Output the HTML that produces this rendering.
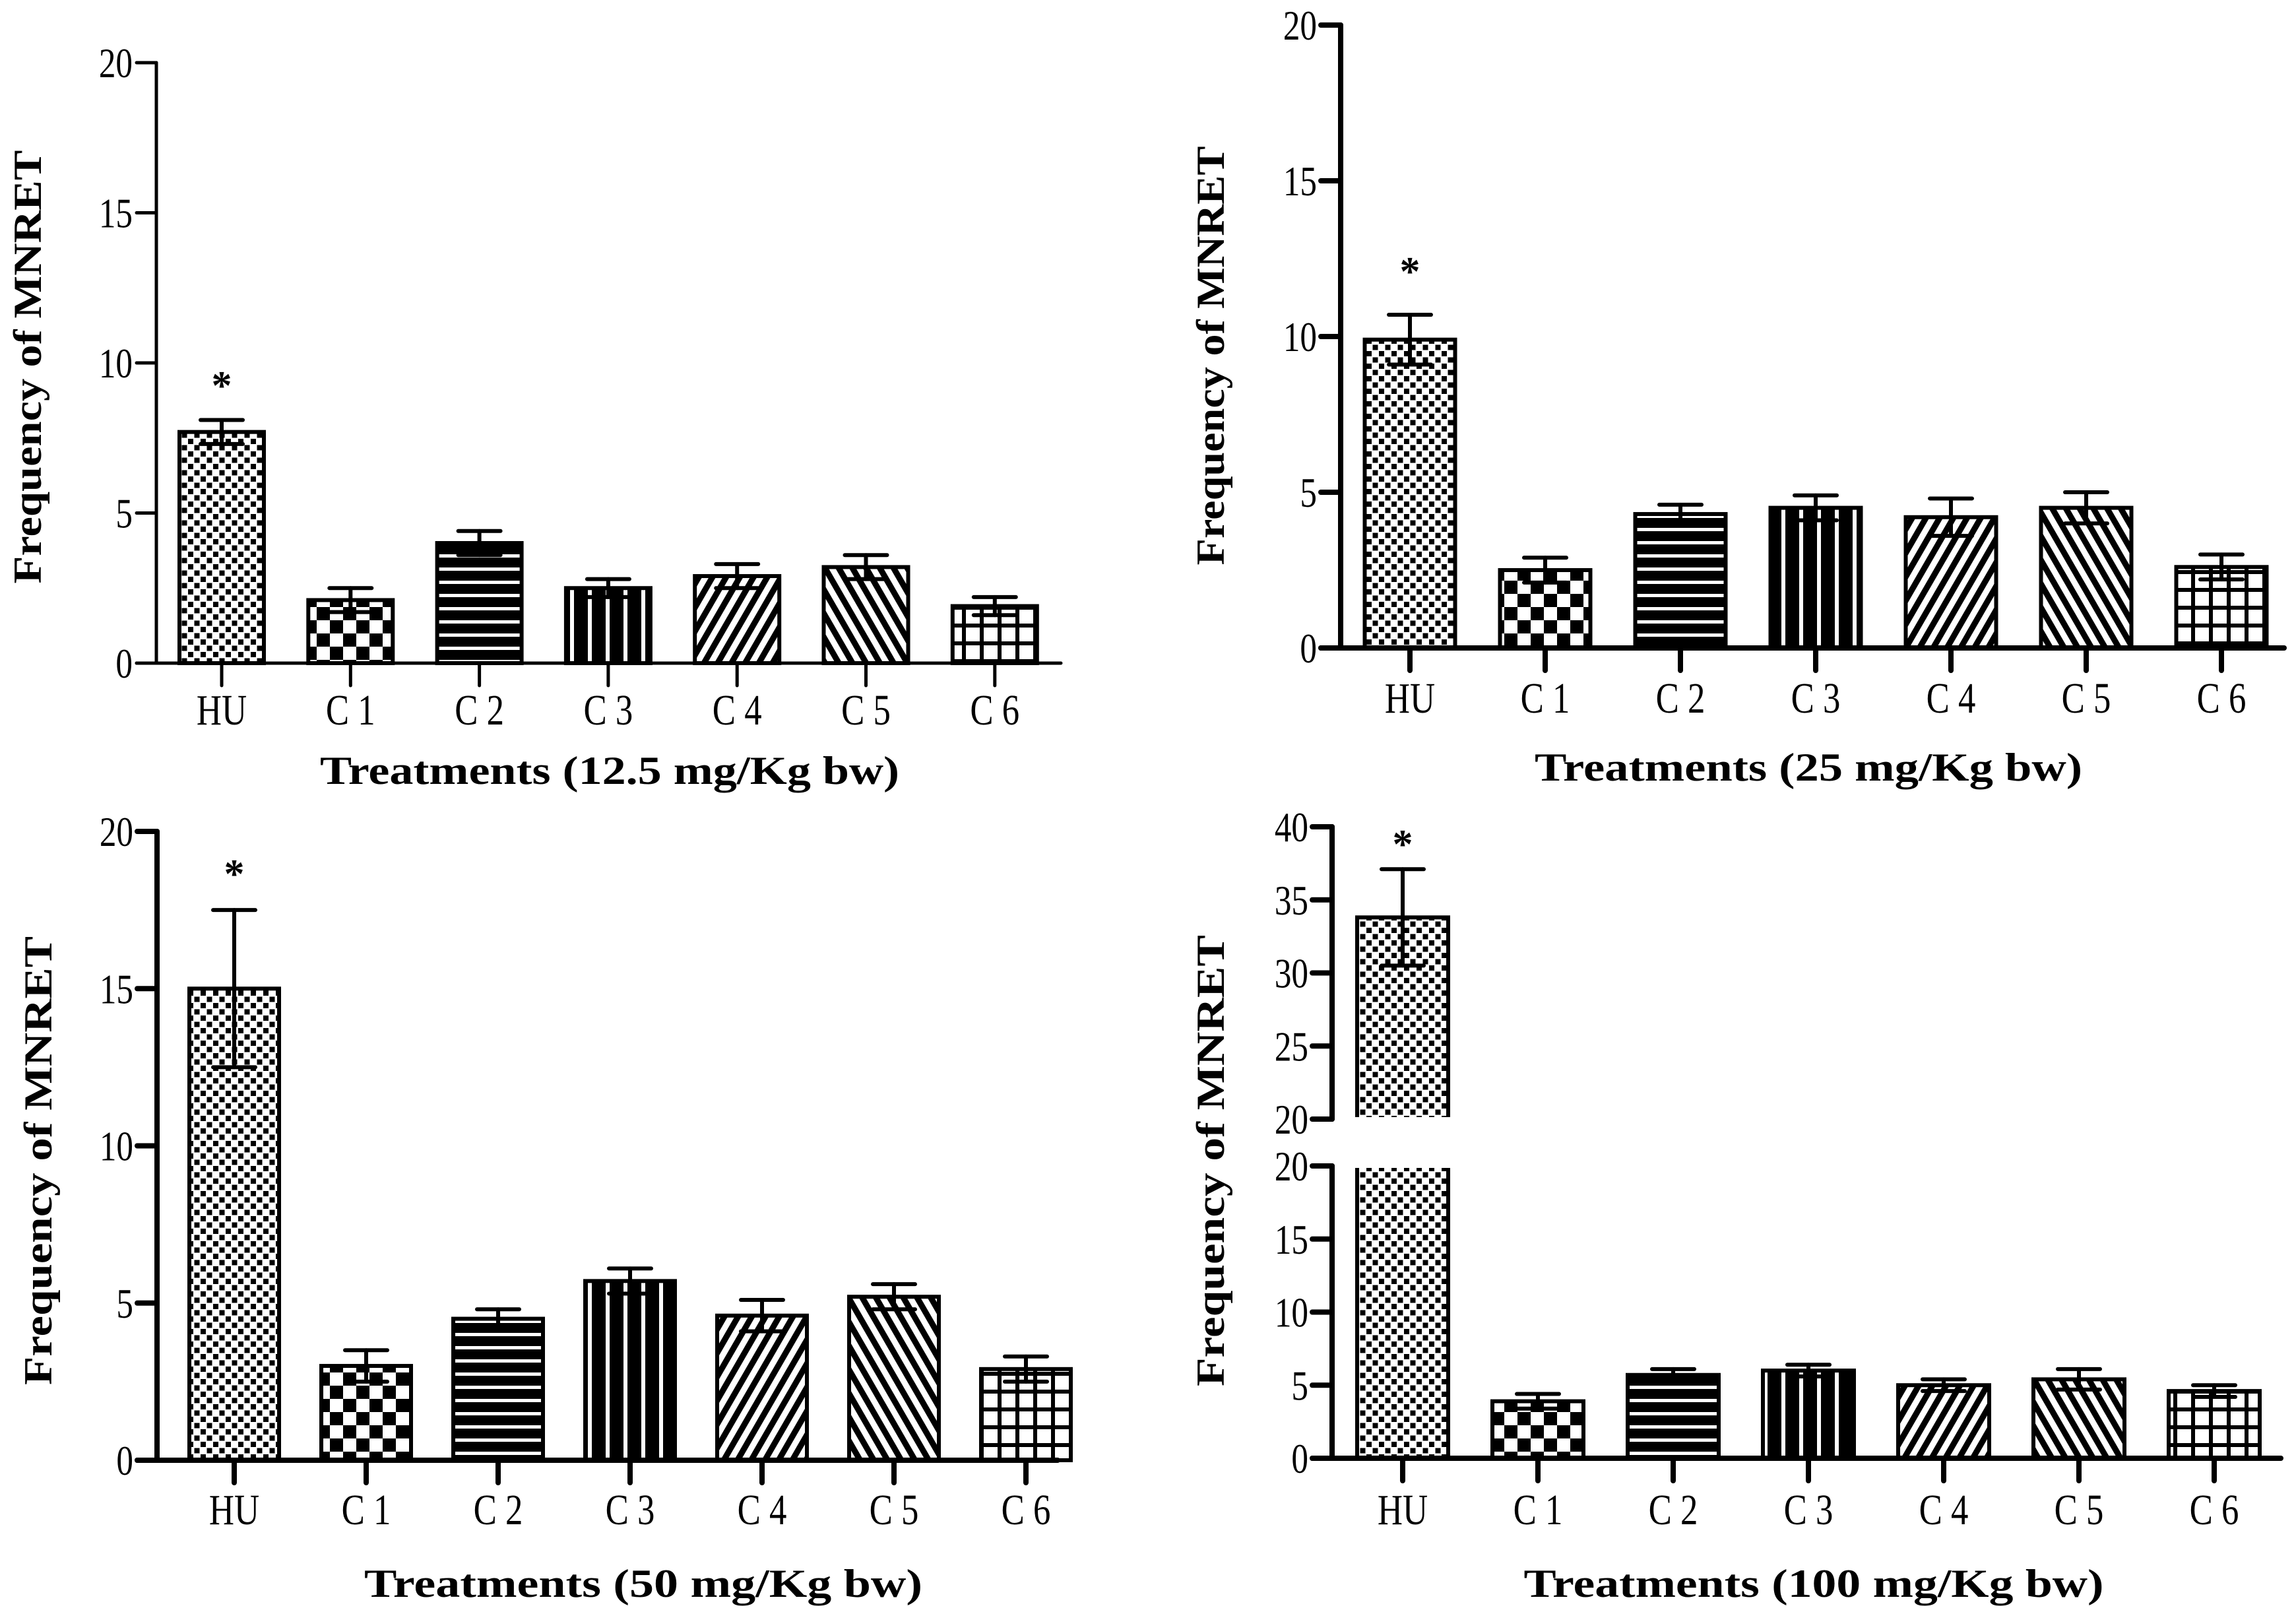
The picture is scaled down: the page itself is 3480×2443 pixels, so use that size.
<!DOCTYPE html>
<html><head><meta charset="utf-8"><style>
html,body{margin:0;padding:0;background:#fff;}
svg{display:block;}
text{font-family:"Liberation Serif",serif;fill:#000;}
</style></head><body>
<svg id="chart" width="3480" height="2443" viewBox="0 0 3480 2443" xmlns="http://www.w3.org/2000/svg">
<defs>
<pattern id="pHU" patternUnits="userSpaceOnUse" width="19" height="19"><rect width="19" height="19" fill="#fff"/><rect x="0" y="0" width="8" height="8" fill="#000"/><rect x="9.5" y="9.5" width="8" height="8" fill="#000"/></pattern>
<pattern id="pC1" patternUnits="userSpaceOnUse" width="40" height="40"><rect width="40" height="40" fill="#fff"/><rect x="0" y="0" width="20" height="20" fill="#000"/><rect x="20" y="20" width="20" height="20" fill="#000"/></pattern>
<pattern id="pC2" patternUnits="userSpaceOnUse" width="20" height="20"><rect width="20" height="20" fill="#000"/><rect x="0" y="0" width="20" height="5" fill="#fff"/></pattern>
<pattern id="pC3" patternUnits="userSpaceOnUse" width="27" height="27"><rect width="27" height="27" fill="#000"/><rect x="0" y="0" width="6" height="27" fill="#fff"/></pattern>
<pattern id="pC4" patternUnits="userSpaceOnUse" width="18" height="18" patternTransform="rotate(30)"><rect width="18" height="18" fill="#fff"/><rect x="0" y="0" width="9" height="18" fill="#000"/></pattern>
<pattern id="pC5" patternUnits="userSpaceOnUse" width="18" height="18" patternTransform="rotate(-30)"><rect width="18" height="18" fill="#fff"/><rect x="0" y="0" width="9" height="18" fill="#000"/></pattern>
<pattern id="pC6" patternUnits="userSpaceOnUse" width="27" height="27"><rect width="27" height="27" fill="#fff"/><rect x="0" y="0" width="6" height="27" fill="#000"/><rect x="0" y="0" width="27" height="6" fill="#000"/></pattern>
</defs>
</svg>
<script>
const categories = ["HU","C 1","C 2","C 3","C 4","C 5","C 6"];
const p1Values = [7.7,2.1,4.0,2.5,2.9,3.2,1.9];
const p1ErrTop = [8.1,2.5,4.4,2.8,3.3,3.6,2.2];
const p2Values = [9.9,2.5,4.3,4.5,4.2,4.5,2.6];
const p2ErrTop = [10.7,2.9,4.6,4.9,4.8,5.0,3.0];
const p3Values = [15.0,3.0,4.5,5.7,4.6,5.2,2.9];
const p3ErrTop = [17.5,3.5,4.8,6.1,5.1,5.6,3.3];
const p4Values = [33.8,3.9,5.7,6.0,5.0,5.4,4.6];
const p4ErrTop = [37.1,4.4,6.1,6.4,5.4,6.1,5.0];
const yTicks = [0,5,10,15,20];
const yTicksUpper = [20,25,30,35,40];
const xTitles = ["Treatments (12.5 mg/Kg bw)","Treatments (25 mg/Kg bw)","Treatments (50 mg/Kg bw)","Treatments (100 mg/Kg bw)"];
const yTitle = "Frequency of MNRET";

const svg = document.getElementById('chart');
const NS = 'http://www.w3.org/2000/svg';
const pats = ['pHU','pC1','pC2','pC3','pC4','pC5','pC6'];
function mk(tag, attrs, parent){const e=document.createElementNS(NS,tag);for(const k in attrs)e.setAttribute(k,attrs[k]);(parent||svg).appendChild(e);return e;}

const panels = [
 {id:'p1',ax:237,x1:1608,y0:1005,yTop:95,first:336,step:195.3,bw:128,vals:p1Values,err:p1ErrTop,sw:5,labY:1098,titleX:924,titleY:1188,titleW:878,ytX:62,ytY:556,ytW:657,starY:605},
 {id:'p2',ax:2032,x1:3462,y0:982,yTop:38,first:2137,step:205,bw:137,vals:p2Values,err:p2ErrTop,sw:8,labY:1080,titleX:2741,titleY:1183,titleW:830,ytX:1855,ytY:539,ytW:635,starY:432},
 {id:'p3',ax:238,x1:1603,y0:2213,yTop:1260,first:355,step:200,bw:136,vals:p3Values,err:p3ErrTop,sw:8,labY:2310,titleX:975,titleY:2420,titleW:846,ytX:78,ytY:1759,ytW:680,starY:1345},
 {id:'p4',ax:2019,x1:3457,y0:2210,yTop:1767,first:2126,step:205,bw:138,vals:p4Values,err:p4ErrTop,sw:8,labY:2310,titleX:2749,titleY:2420,titleW:879,ytX:1855,ytY:1759,ytW:684,starY:1300,broken:true,uTop:1253,uBot:1696}
];

function label(g,x,y,txt,anchor,size){
  const t=mk('text',{x:0,y:0,'font-size':size,'text-anchor':anchor,transform:'translate('+x+','+y+') scale(0.8,1)'},g);
  t.textContent=txt;return t;
}

panels.forEach((p,pi)=>{
  const g=mk('g',{});
  
  
  const yLow=v=>p.y0-(v/20)*(p.y0-p.yTop);
  const yUp=v=>p.uBot-((v-20)/20)*(p.uBot-p.uTop);
  const yv=v=>(p.broken && v>20)?yUp(v):yLow(v);
  const cx=i=>p.first+i*p.step;
  categories.forEach((c,i)=>{
    const v=p.vals[i];
    const x=cx(i)-p.bw/2;
    let top=yv(v);
    if(p.broken && v>20){
      const b1=mk('rect',{x:x,y:p.yTop,width:p.bw,height:p.y0-p.yTop,fill:'url(#'+pats[i]+')',stroke:'#000','stroke-width':6},g);
      
      
      const b2=mk('rect',{x:x,y:top,width:p.bw,height:p.uBot-top,fill:'url(#'+pats[i]+')',stroke:'#000','stroke-width':6},g);
      
      
      mk('rect',{x:x-4,y:p.uBot-3,width:p.bw+8,height:8,fill:'#fff'},g);
      mk('rect',{x:x-4,y:p.yTop-5,width:p.bw+8,height:8,fill:'#fff'},g);
    } else {
      const b=mk('rect',{x:x,y:top,width:p.bw,height:p.y0-top,fill:'url(#'+pats[i]+')',stroke:'#000','stroke-width':6},g);
      
      
    }
    const hi=p.err[i], lo=v-(hi-v);
    const eg=mk('g',{stroke:'#000','stroke-width':6,'stroke-linecap':'round'},g);
    
    
    mk('line',{x1:cx(i),x2:cx(i),y1:yv(lo),y2:yv(hi)},eg);
    mk('line',{x1:cx(i)-32,x2:cx(i)+32,y1:yv(hi),y2:yv(hi)},eg);
    mk('line',{x1:cx(i)-32,x2:cx(i)+32,y1:yv(lo),y2:yv(lo)},eg);
    mk('line',{x1:cx(i),x2:cx(i),y1:p.y0,y2:p.y0+34,stroke:'#000','stroke-width':p.sw,'stroke-linecap':'round'},g);
    const xl=label(g,cx(i),p.labY,c,'middle',66);
    
    
  });
  const st=mk('text',{x:cx(0),y:p.starY,'font-size':62,'text-anchor':'middle','font-weight':'bold'},g);
  st.textContent='*';
  
  
  const axg=mk('g',{stroke:'#000','stroke-width':p.sw,'stroke-linecap':'round'},g);
  
  
  mk('line',{x1:p.ax-30,x2:p.x1,y1:p.y0,y2:p.y0},axg);
  mk('line',{x1:p.ax,x2:p.ax,y1:p.y0,y2:p.yTop},axg);
  yTicks.forEach(t=>{
    mk('line',{x1:p.ax-30,x2:p.ax,y1:yLow(t),y2:yLow(t)},axg);
    const tl=label(g,p.ax-36,yLow(t)+22,String(t),'end',64);
    
    
  });
  if(p.broken){
    mk('line',{x1:p.ax,x2:p.ax,y1:p.uBot,y2:p.uTop},axg);
    yTicksUpper.forEach(t=>{
      mk('line',{x1:p.ax-30,x2:p.ax,y1:yUp(t),y2:yUp(t)},axg);
      const tl=label(g,p.ax-36,yUp(t)+22,String(t),'end',64);
      
      
    });
  }
  const xt=mk('text',{x:p.titleX,y:p.titleY,'font-size':60,'font-weight':'bold','text-anchor':'middle',textLength:p.titleW,lengthAdjust:'spacingAndGlyphs'},g);
  xt.textContent=xTitles[pi];
  
  
  const yt=mk('text',{x:0,y:0,'font-size':60,'font-weight':'bold','text-anchor':'middle',textLength:p.ytW,lengthAdjust:'spacingAndGlyphs',transform:'translate('+p.ytX+','+p.ytY+') rotate(-90)'},g);
  yt.textContent=yTitle;
  
  
});
</script>
</body></html>
